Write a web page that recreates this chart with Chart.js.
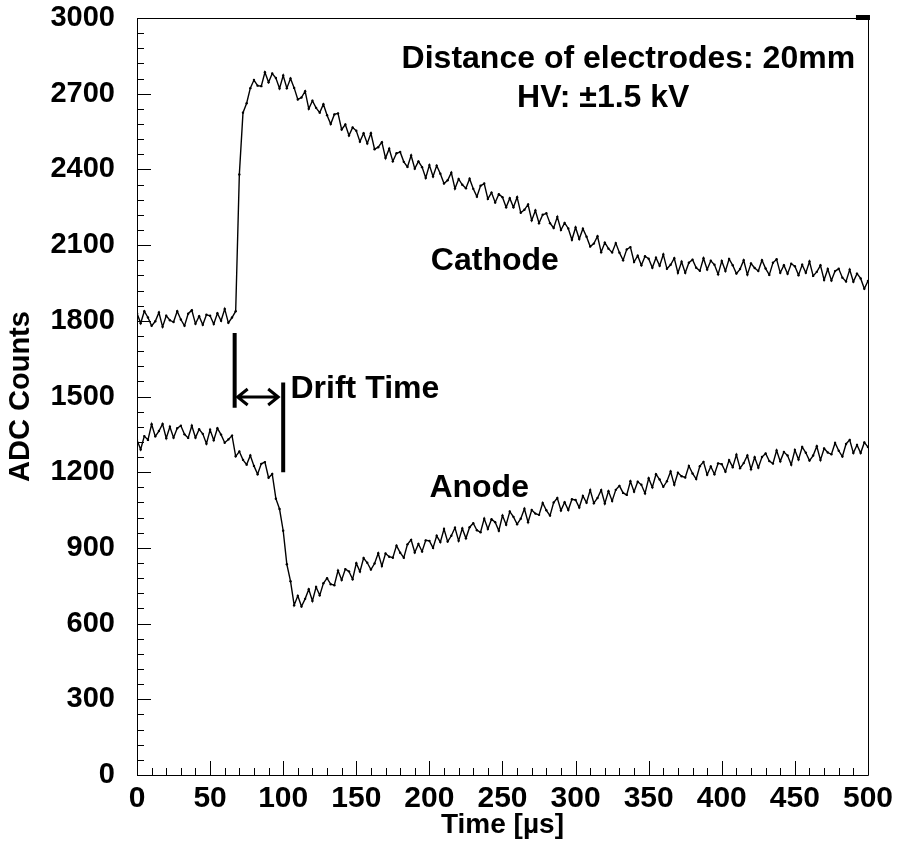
<!DOCTYPE html>
<html>
<head>
<meta charset="utf-8">
<script src="https://cdn.jsdelivr.net/npm/chart.js@4.4.1/dist/chart.umd.min.js"></script>
<style>
  html, body { margin: 0; padding: 0; background: #fff; }
  #wrap { width: 899px; height: 846px; }
</style>
</head>
<body>
<div id="wrap"><canvas id="chart" width="899" height="846"></canvas></div>
<script>
// scope trace, one sample every 2.5 µs
const sampleStep = 2.5;

const cathode = [
  1830,1790,1838,1813,1780,1798,1833,1776,1820,1802,
  1795,1838,1805,1780,1828,1842,1788,1818,1784,1824,
  1820,1787,1830,1800,1847,1792,1813,1838,2380,2625,
  2662,2722,2754,2732,2730,2785,2745,2780,2762,2721,
  2772,2722,2760,2723,2677,2685,2710,2640,2672,2644,
  2625,2658,2615,2580,2618,2622,2558,2578,2534,2566,
  2553,2510,2543,2503,2543,2480,2488,2508,2445,2482,
  2432,2464,2469,2430,2410,2455,2403,2432,2409,2366,
  2417,2372,2415,2383,2344,2357,2387,2324,2362,2339,
  2325,2363,2323,2292,2335,2344,2283,2308,2269,2302,
  2290,2250,2286,2250,2290,2228,2240,2261,2198,2237,
  2187,2220,2226,2187,2168,2212,2160,2188,2166,2121,
  2170,2124,2165,2133,2094,2106,2135,2072,2110,2086,
  2071,2108,2070,2040,2083,2092,2033,2058,2020,2056,
  2046,2010,2050,2018,2063,2006,2022,2048,1990,2034,
  1990,2030,2042,2010,1998,2048,2003,2038,2022,1984,
  2037,1997,2045,2020,1987,2005,2040,1983,2027,2009,
  1997,2040,2007,1982,2030,2044,1990,2020,1986,2026,
  2016,1981,2022,1990,2035,1978,1994,2020,1962,2005,
  1960,1997,2006,1971,1956,2003,1955,1987,1968,1927,
  1958
];

const anode = [
  1328,1290,1343,1328,1390,1342,1363,1391,1335,1380,
  1337,1374,1384,1350,1336,1384,1337,1370,1352,1313,
  1368,1327,1374,1349,1317,1330,1345,1263,1282,1249,
  1230,1266,1225,1192,1233,1240,1178,1193,1095,1054,
  968,835,768,673,710,668,698,736,690,745,
  712,760,780,756,752,810,773,816,807,776,
  839,806,860,841,814,838,879,828,878,865,
  861,909,881,861,914,932,882,916,886,930,
  928,900,948,923,975,925,948,980,928,977,
  938,982,998,970,962,1016,975,1014,1002,968,
  1028,992,1044,1023,994,1016,1055,1002,1050,1036,
  1031,1078,1049,1028,1080,1098,1048,1081,1050,1093,
  1090,1060,1106,1079,1129,1077,1098,1129,1076,1125,
  1086,1130,1146,1118,1110,1164,1123,1162,1150,1116,
  1176,1140,1192,1171,1142,1164,1203,1150,1198,1184,
  1179,1225,1195,1173,1224,1241,1190,1223,1192,1235,
  1232,1202,1248,1220,1269,1216,1236,1266,1212,1259,
  1218,1260,1274,1244,1234,1286,1243,1280,1266,1230,
  1288,1250,1300,1277,1246,1266,1303,1248,1294,1278,
  1271,1316,1285,1262,1312,1328,1276,1308,1276,1318,
  1300
];

const xTickValues = [0, 50, 100, 150, 200, 250, 300, 350, 400, 450, 500];
const yTickValues = [0, 300, 600, 900, 1200, 1500, 1800, 2100, 2400, 2700, 3000];

// drift time marker (µs / ADC counts)
const driftStart = 66.8;
const driftEnd = 100;
const driftStartBar = [1455, 1752];
const driftEndBar = [1200, 1555];
const arrowLevel = 1498;

const notes = [
  { text: 'Distance of electrodes: 20mm', t: 181, v: 2802 },
  { text: 'HV: \u00b11.5 kV', t: 260, v: 2648 },
  { text: 'Cathode', t: 201, v: 2002 },
  { text: 'Anode', t: 200, v: 1102 },
  { text: 'Drift Time', t: 105, v: 1494 }
];

const toPoints = arr => arr.map((v, i) => ({ x: i * sampleStep, y: v }));

const FONT = '"Liberation Sans", Arial, Helvetica, sans-serif';

const framePlugin = {
  id: 'frame',
  afterDraw(chart) {
    const { ctx, chartArea: a, scales: { x, y } } = chart;
    ctx.save();
    ctx.strokeStyle = '#000';
    ctx.lineWidth = 1;
    // frame
    ctx.beginPath();
    ctx.moveTo(Math.round(a.left) + 0.5, Math.round(a.top) + 0.5);
    ctx.lineTo(Math.round(a.right) + 0.5, Math.round(a.top) + 0.5);
    ctx.lineTo(Math.round(a.right) + 0.5, Math.round(a.bottom) + 0.5);
    ctx.lineTo(Math.round(a.left) + 0.5, Math.round(a.bottom) + 0.5);
    ctx.closePath();
    ctx.stroke();
    ctx.fillStyle = '#000';
    ctx.fillRect(a.right - 12, a.top - 3, 14, 5);

    // inward ticks, 5 subdivisions between labelled ticks
    ctx.beginPath();
    const xt = x.ticks.map(t => t.value);
    for (let i = 0; i < xt.length; i++) {
      const px = Math.round(x.getPixelForValue(xt[i])) + 0.5;
      ctx.moveTo(px, a.bottom); ctx.lineTo(px, a.bottom - 14);
      if (i < xt.length - 1) {
        for (let k = 1; k < 5; k++) {
          const m = Math.round(x.getPixelForValue(xt[i] + (xt[i + 1] - xt[i]) * k / 5)) + 0.5;
          ctx.moveTo(m, a.bottom); ctx.lineTo(m, a.bottom - 7);
        }
      }
    }
    const yt = y.ticks.map(t => t.value);
    for (let i = 0; i < yt.length; i++) {
      const py = Math.round(y.getPixelForValue(yt[i])) + 0.5;
      ctx.moveTo(a.left, py); ctx.lineTo(a.left + 14, py);
      if (i < yt.length - 1) {
        for (let k = 1; k < 5; k++) {
          const m = Math.round(y.getPixelForValue(yt[i] + (yt[i + 1] - yt[i]) * k / 5)) + 0.5;
          ctx.moveTo(a.left, m); ctx.lineTo(a.left + 7, m);
        }
      }
    }
    ctx.stroke();

    // drift time marker
    ctx.lineWidth = 4;
    ctx.beginPath();
    const x1 = x.getPixelForValue(driftStart), x2 = x.getPixelForValue(driftEnd);
    ctx.moveTo(x1, y.getPixelForValue(driftStartBar[0]));
    ctx.lineTo(x1, y.getPixelForValue(driftStartBar[1]));
    ctx.moveTo(x2, y.getPixelForValue(driftEndBar[0]));
    ctx.lineTo(x2, y.getPixelForValue(driftEndBar[1]));
    ctx.stroke();
    const ay = y.getPixelForValue(arrowLevel);
    const l = x1 + 3, r = x2 - 5;
    ctx.lineWidth = 3;
    ctx.beginPath();
    ctx.moveTo(l, ay); ctx.lineTo(r, ay);
    ctx.moveTo(l + 10, ay - 8); ctx.lineTo(l, ay); ctx.lineTo(l + 10, ay + 8);
    ctx.moveTo(r - 10, ay - 8); ctx.lineTo(r, ay); ctx.lineTo(r - 10, ay + 8);
    ctx.stroke();

    // text notes
    ctx.font = 'bold 32px ' + FONT;
    ctx.textBaseline = 'alphabetic';
    ctx.textAlign = 'left';
    notes.forEach(n => {
      ctx.fillText(n.text, x.getPixelForValue(n.t), y.getPixelForValue(n.v));
    });
    ctx.restore();
  }
};

new Chart(document.getElementById('chart'), {
  type: 'line',
  data: {
    datasets: [
      { label: 'Cathode', data: toPoints(cathode) },
      { label: 'Anode', data: toPoints(anode) }
    ]
  },
  options: {
    responsive: false,
    animation: false,
    events: [],
    layout: { padding: { left: 0, right: 29, top: 18, bottom: 0 } },
    elements: {
      line: { borderColor: '#000', borderWidth: 1.4, tension: 0 },
      point: { radius: 1.2, borderWidth: 0, backgroundColor: '#000' }
    },
    plugins: { legend: { display: false }, tooltip: { enabled: false } },
    scales: {
      x: {
        type: 'linear',
        min: 0,
        max: 500,
        afterBuildTicks: s => { s.ticks = xTickValues.map(v => ({ value: v })); },
        afterFit: s => { s.height = 71; },
        grid: { display: false, drawTicks: false },
        border: { display: false },
        ticks: { color: '#000', padding: 6, maxRotation: 0, callback: v => String(v), font: { family: FONT, size: 30, weight: 'bold' } },
        title: { display: true, text: 'Time [\u00b5s]', color: '#000', padding: { top: 0, bottom: 4 }, font: { family: FONT, size: 28, weight: 'bold' } }
      },
      y: {
        min: 0,
        max: 3000,
        afterBuildTicks: s => { s.ticks = yTickValues.map(v => ({ value: v })); },
        afterFit: s => { s.width = 137; s.paddingTop = 0; s.paddingBottom = 0; },
        grid: { display: false, drawTicks: false },
        border: { display: false },
        ticks: { color: '#000', padding: 22, callback: v => String(v), font: { family: FONT, size: 29, weight: 'bold' } },
        title: { display: true, text: 'ADC Counts', color: '#000', padding: { top: 4, bottom: 0 }, font: { family: FONT, size: 29, weight: 'bold' } }
      }
    }
  },
  plugins: [framePlugin]
});
</script>
</body>
</html>
